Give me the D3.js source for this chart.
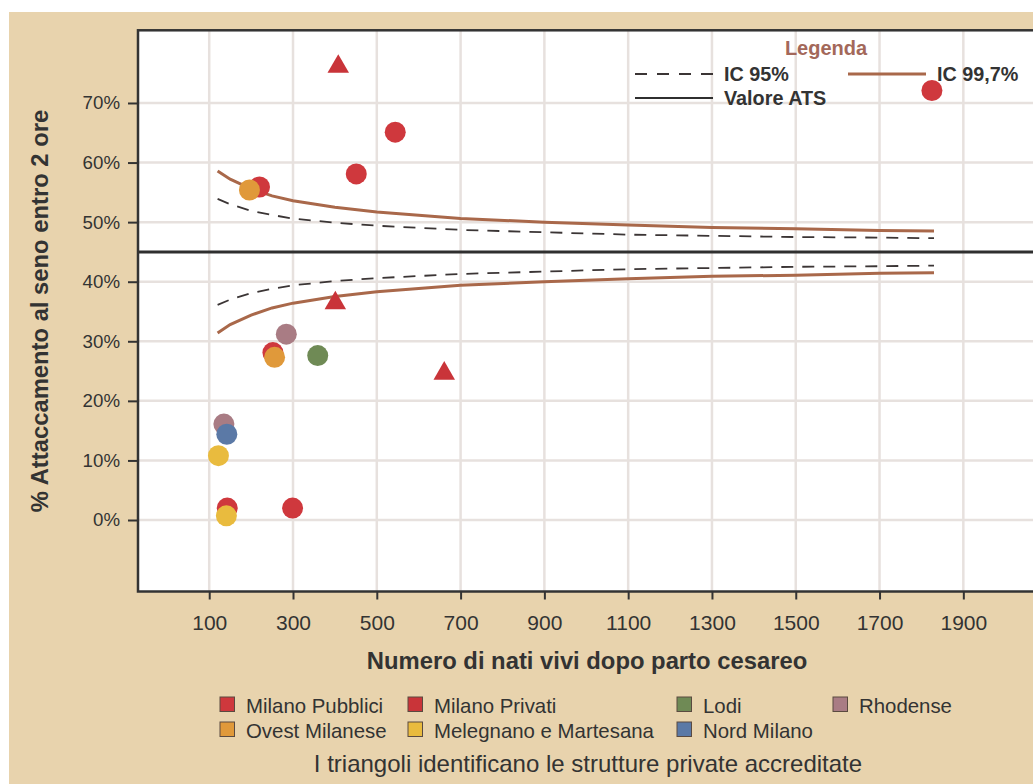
<!DOCTYPE html>
<html>
<head>
<meta charset="utf-8">
<script src="https://cdn.jsdelivr.net/npm/d3@7"></script>
<style>
  html, body { margin: 0; padding: 0; background: #ffffff; }
  svg { display: block; font-family: "Liberation Sans", Arial, sans-serif; }
</style>
</head>
<body>
<svg id="chart" width="1033" height="784"></svg>
<script>
// Groups (ATS districts) and their colours
const groups = ["Milano Pubblici", "Milano Privati", "Lodi", "Rhodense",
                "Ovest Milanese", "Melegnano e Martesana", "Nord Milano"];
const groupColors = ["#cf383d", "#c93439", "#6f8a55", "#a97c84",
                     "#e0993a", "#e9bb3e", "#5b79a6"];

// Facilities: births after caesarean (n), % breastfed within 2 hours, group, shape
const births   = [544, 451, 220, 1825, 196, 284, 252, 256, 359, 135, 142, 122, 143, 141, 299, 408, 401, 661];
const rates    = [65.1, 58.1, 55.9, 72.1, 55.4, 31.2, 28.1, 27.3, 27.6, 16.1, 14.4, 10.8, 2.0, 0.7, 2.0, 76.1, 36.4, 24.6];
const groupOf  = ["Milano Pubblici", "Milano Pubblici", "Milano Pubblici", "Milano Pubblici", "Ovest Milanese",
                  "Rhodense", "Milano Pubblici", "Ovest Milanese", "Lodi", "Rhodense", "Nord Milano",
                  "Melegnano e Martesana", "Milano Pubblici", "Melegnano e Martesana", "Milano Pubblici",
                  "Milano Privati", "Milano Privati", "Milano Privati"];
const accredited = [false, false, false, false, false, false, false, false, false, false, false,
                    false, false, false, false, true, true, true];

// ATS reference value and funnel limits
const atsValue = 45;
const limitN     = [120, 150, 200, 250, 300, 400, 500, 700, 900, 1100, 1300, 1500, 1700, 1830];
const ic95Upper  = [53.9, 53.0, 51.9, 51.2, 50.6, 49.9, 49.4, 48.7, 48.3, 47.9, 47.7, 47.5, 47.4, 47.3];
const ic95Lower  = [36.1, 37.0, 38.1, 38.8, 39.4, 40.1, 40.6, 41.3, 41.7, 42.1, 42.3, 42.5, 42.6, 42.7];
const ic997Upper = [58.6, 57.2, 55.6, 54.4, 53.6, 52.5, 51.7, 50.6, 50.0, 49.5, 49.1, 48.9, 48.6, 48.5];
const ic997Lower = [31.4, 32.8, 34.4, 35.6, 36.4, 37.5, 38.3, 39.4, 40.0, 40.5, 40.9, 41.1, 41.4, 41.5];

// Axis ticks
const xTicks = [100, 300, 500, 700, 900, 1100, 1300, 1500, 1700, 1900];
const yTicks = [0, 10, 20, 30, 40, 50, 60, 70];

const svg = d3.select("#chart");
const W = 1033, H = 784;

// Panel background
svg.append("rect").attr("x", 9).attr("y", 12).attr("width", W - 9).attr("height", H - 12)
   .attr("fill", "#e8d3ad");

const pLeft = 138, pRight = 1040, pTop = 30.3, pBottom = 591.5;
const x = d3.scaleLinear().domain([-70, 2083]).range([pLeft, pRight]);
const y = d3.scaleLinear().domain([-12, 82.2]).range([pBottom, pTop]);
const color = d3.scaleOrdinal().domain(groups).range(groupColors);

svg.append("defs").append("clipPath").attr("id", "plotclip")
   .append("rect").attr("x", pLeft).attr("y", pTop).attr("width", pRight - pLeft).attr("height", pBottom - pTop);

// Plot area
svg.append("rect").attr("x", pLeft).attr("y", pTop).attr("width", pRight - pLeft).attr("height", pBottom - pTop)
   .attr("fill", "#ffffff");

const plot = svg.append("g").attr("clip-path", "url(#plotclip)");

// Grid
plot.selectAll("line.gx").data(xTicks).join("line")
   .attr("x1", d => x(d)).attr("x2", d => x(d)).attr("y1", pTop).attr("y2", pBottom)
   .attr("stroke", "#e7e1de").attr("stroke-width", 2.5);
plot.selectAll("line.gy").data(yTicks).join("line")
   .attr("x1", pLeft).attr("x2", pRight).attr("y1", d => y(d)).attr("y2", d => y(d))
   .attr("stroke", "#e7e1de").attr("stroke-width", 2.5);

// Funnel limits
const line = d3.line().x((d, i) => x(limitN[i])).y(d => y(d));
const limits = [
  { values: ic95Upper,  stroke: "#3b3535", width: 1.8, dash: "12,9" },
  { values: ic95Lower,  stroke: "#3b3535", width: 1.8, dash: "12,9" },
  { values: ic997Upper, stroke: "#a9684a", width: 3,   dash: null },
  { values: ic997Lower, stroke: "#a9684a", width: 3,   dash: null }
];
limits.forEach(l => {
  plot.append("path").attr("d", line(l.values)).attr("fill", "none")
     .attr("stroke", l.stroke).attr("stroke-width", l.width)
     .attr("stroke-dasharray", l.dash);
});

// ATS reference line
plot.append("line").attr("x1", pLeft).attr("x2", pRight)
   .attr("y1", y(atsValue)).attr("y2", y(atsValue))
   .attr("stroke", "#2f2f2f").attr("stroke-width", 3);

// Facilities
const pts = births.map((n, i) => ({ n, r: rates[i], g: groupOf[i], tri: accredited[i] }));
const tri = d3.symbol().type(d3.symbolTriangle).size(200);
plot.selectAll("path.pt").data(pts.filter(d => d.tri)).join("path")
   .attr("transform", d => `translate(${x(d.n)},${y(d.r)})`)
   .attr("d", tri).attr("fill", d => color(d.g));
plot.selectAll("circle.pt").data(pts.filter(d => !d.tri)).join("circle")
   .attr("cx", d => x(d.n)).attr("cy", d => y(d.r)).attr("r", 10.5)
   .attr("fill", d => color(d.g));

// Frame
svg.append("rect").attr("x", pLeft).attr("y", pTop).attr("width", pRight - pLeft).attr("height", pBottom - pTop)
   .attr("fill", "none").attr("stroke", "#333333").attr("stroke-width", 2.5);

// Axes
const yAxis = svg.append("g").attr("transform", `translate(${pLeft},0)`)
   .call(d3.axisLeft(y).tickValues(yTicks).tickFormat(d => d + "%").tickSize(10).tickPadding(8));
const xAxis = svg.append("g").attr("transform", `translate(0,${pBottom})`)
   .call(d3.axisBottom(x).tickValues(xTicks).tickFormat(d3.format("d")).tickSize(8));
[yAxis, xAxis].forEach(a => {
  a.select(".domain").remove();
  a.selectAll(".tick line").attr("stroke", "#333333").attr("stroke-width", 2);
  a.selectAll(".tick text").attr("fill", "#333333")
   .style("font-family", "'Liberation Sans', Arial, sans-serif");
});
yAxis.selectAll(".tick text").style("font-size", "18.7px");
xAxis.selectAll(".tick text").style("font-size", "21px").attr("y", 38.5).attr("dy", null);

// Axis titles
svg.append("text").attr("transform", "translate(48,311) rotate(-90)")
   .attr("text-anchor", "middle").attr("fill", "#333333")
   .style("font-size", "23.8px").style("font-weight", "bold")
   .text("% Attaccamento al seno entro 2 ore");
svg.append("text").attr("x", 587).attr("y", 669)
   .attr("text-anchor", "middle").attr("fill", "#333333")
   .style("font-size", "23.8px").style("font-weight", "bold")
   .text("Numero di nati vivi dopo parto cesareo");

// Line legend
const lg = svg.append("g");
lg.append("text").attr("x", 826).attr("y", 55).attr("text-anchor", "middle")
  .attr("fill", "#a3685a").style("font-size", "20px").style("font-weight", "bold").text("Legenda");
const lineKeys = [
  { label: "IC 95%",     x0: 635, y0: 74, stroke: "#3b3535", width: 1.8, dash: "12,10" },
  { label: "IC 99,7%",   x0: 848, y0: 74, stroke: "#a9684a", width: 3,   dash: null },
  { label: "Valore ATS", x0: 635, y0: 98, stroke: "#2f2f2f", width: 2,   dash: null }
];
lineKeys.forEach(k => {
  lg.append("line").attr("x1", k.x0).attr("x2", k.x0 + 78).attr("y1", k.y0).attr("y2", k.y0)
    .attr("stroke", k.stroke).attr("stroke-width", k.width).attr("stroke-dasharray", k.dash);
  lg.append("text").attr("x", k.x0 + 89).attr("y", k.y0 + 6.5).attr("fill", "#333333")
    .style("font-size", "19.8px").style("font-weight", "bold").text(k.label);
});

// Group legend
const legendPos = [
  [220, 697], [408, 697], [677, 697], [833, 697],
  [220, 722], [408, 722], [677, 722]
];
const gl = svg.append("g");
groups.forEach((g, i) => {
  const [lx, ly] = legendPos[i];
  gl.append("rect").attr("x", lx).attr("y", ly).attr("width", 14.5).attr("height", 14.5)
    .attr("fill", color(g)).attr("stroke", "#5a4a40").attr("stroke-width", 1);
  gl.append("text").attr("x", lx + 26).attr("y", ly + 15.5).attr("fill", "#333333")
    .style("font-size", "20.4px").text(g);
});

svg.append("text").attr("x", 588).attr("y", 772).attr("text-anchor", "middle")
   .attr("fill", "#333333").style("font-size", "24px")
   .text("I triangoli identificano le strutture private accreditate");
</script>
</body>
</html>
